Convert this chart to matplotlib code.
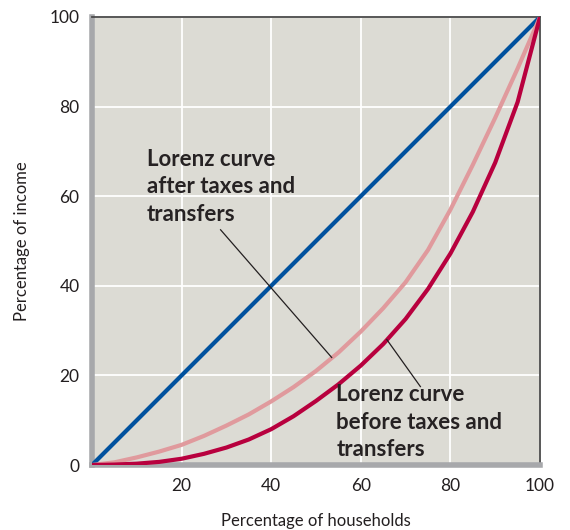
import matplotlib.pyplot as plt

# Data
households = [0, 5, 10, 15, 20, 25, 30, 35, 40, 45, 50,
              55, 60, 65, 70, 75, 80, 85, 90, 95, 100]
equality = [0, 100]
equality_x = [0, 100]
after_taxes = [0, 0.6, 1.7, 3, 4.5, 6.5, 8.8, 11.3, 14.2, 17.4, 21,
               25.1, 29.8, 35, 40.8, 48, 57, 67, 77.5, 88.5, 100]
before_taxes = [0, 0.1, 0.3, 0.7, 1.4, 2.5, 3.9, 5.7, 8, 10.9, 14.3,
                18, 22.2, 27, 32.6, 39.3, 47.2, 56.5, 67.5, 81, 100]
ticks = [0, 20, 40, 60, 80, 100]

plt.rcParams['font.family'] = ['Lato', 'DejaVu Sans']

fig = plt.figure(figsize=(5.7, 5.3), dpi=100)
ax = fig.add_axes([0.1614, 0.1226, 0.7860, 0.8454])
ax.set_facecolor('#dcdbd4')

ax.set_xlim(0, 100)
ax.set_ylim(0, 100)
ax.set_xticks(ticks[1:])
ax.set_yticks(ticks)
ax.grid(True, color='white', linewidth=1.3)
ax.set_axisbelow(True)
ax.tick_params(length=0, labelsize=12.5, colors='#231f20', pad=9)

for side in ['left', 'bottom']:
    ax.spines[side].set_color('#a7a8ab')
    ax.spines[side].set_linewidth(4)
for side in ['top', 'right']:
    ax.spines[side].set_color('#4a4a4a')
    ax.spines[side].set_linewidth(1.3)

ax.plot(equality_x, equality, color='#00519e', linewidth=3, zorder=3)
ax.plot(households, after_taxes, color='#e09a9d', linewidth=3, zorder=3)
ax.plot(households, before_taxes, color='#b8003e', linewidth=3, zorder=3)

# Labels and pointer lines
label_style = dict(fontsize=16, fontweight='bold', color='#262223',
                   linespacing=1.38, va='top')
ax.text(12.2, 70.6, 'Lorenz curve\nafter taxes and\ntransfers', **label_style)
ax.plot([28.7, 53.5], [52.5, 24], color='#231f20', linewidth=0.9, zorder=4)
ax.text(54.5, 18.0, 'Lorenz curve\nbefore taxes and\ntransfers', **label_style)
ax.plot([65.8, 73.3], [28, 17.5], color='#231f20', linewidth=0.9, zorder=4)

ax.set_xlabel('Percentage of households', fontsize=12, color='#231f20', labelpad=14)
ax.set_ylabel('Percentage of income', fontsize=12, color='#231f20', labelpad=14)

fig.savefig('out.png', dpi=100)
